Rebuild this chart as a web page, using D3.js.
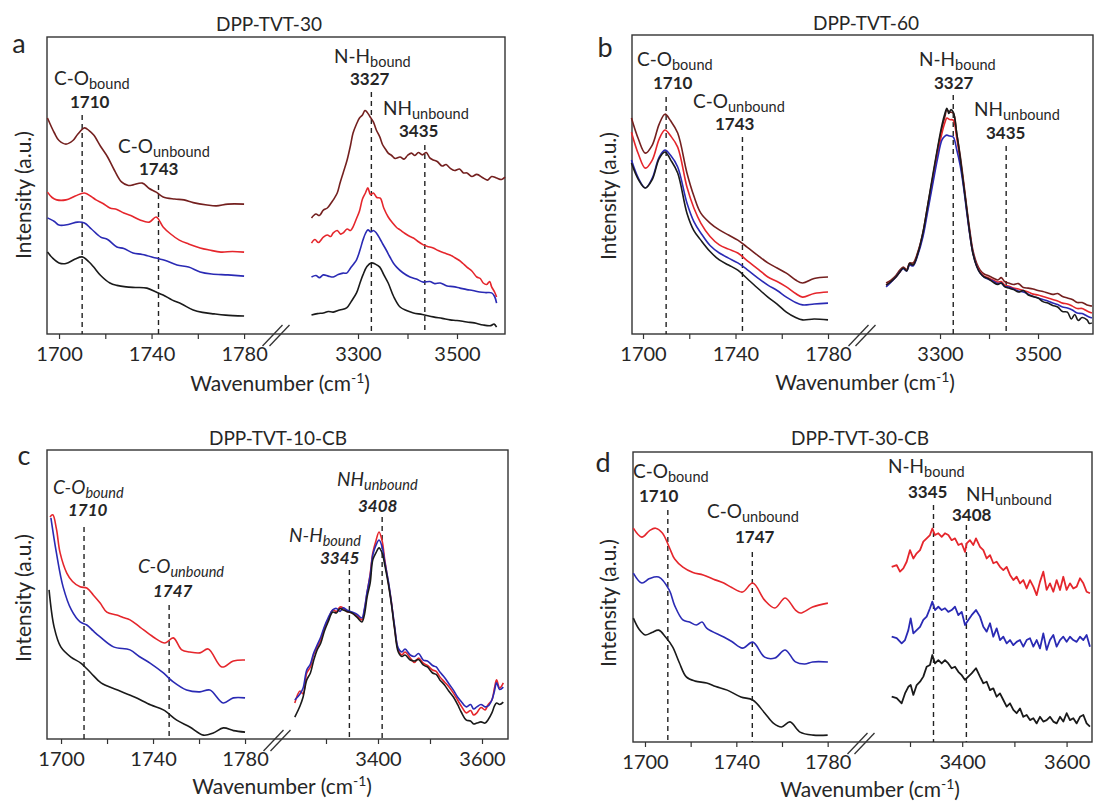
<!DOCTYPE html>
<html><head><meta charset="utf-8">
<script src="https://cdn.jsdelivr.net/npm/d3@7"></script>
<style>body{margin:0;background:#fff} text{font-family:Lato,'Open Sans',sans-serif;}</style>
</head><body><svg id="chart" width="1094" height="803"></svg>
<script>
// ---------- tick values ----------
const ticksLeft = [1700, 1720, 1740, 1760, 1780];
const labelsLeft = [1700, 1740, 1780];
const ticksRightAB = [3300, 3400, 3500];
const labelsRightAB = [3300, 3500];
const ticksRightCD = [3300, 3400, 3500, 3600];
const labelsRightCD = [3400, 3600];

// ---------- titles / markers ----------
const titles = ['DPP-TVT-30', 'DPP-TVT-60', 'DPP-TVT-10-CB', 'DPP-TVT-30-CB'];
const panelLetters = ['a', 'b', 'c', 'd'];
const markersA = [{main:'C-O',sub:'bound',value:1710},{main:'C-O',sub:'unbound',value:1743},{main:'N-H',sub:'bound',value:3327},{main:'NH',sub:'unbound',value:3435}];
const markersB = [{main:'C-O',sub:'bound',value:1710},{main:'C-O',sub:'unbound',value:1743},{main:'N-H',sub:'bound',value:3327},{main:'NH',sub:'unbound',value:3435}];
const markersC = [{main:'C-O',sub:'bound',value:1710},{main:'C-O',sub:'unbound',value:1747},{main:'N-H',sub:'bound',value:3345},{main:'NH',sub:'unbound',value:3408}];
const markersD = [{main:'C-O',sub:'bound',value:1710},{main:'C-O',sub:'unbound',value:1747},{main:'N-H',sub:'bound',value:3345},{main:'NH',sub:'unbound',value:3408}];

// ---------- spectra: [wavenumber, intensity (a.u.)] ----------
// Panel a
const aCO_darkred = [[1695,72],[1698,67],[1700,64.5],[1703,63.3],[1706,64.5],[1708,66.5],[1711,68.7],[1713,67.8],[1715,66.3],[1718,62.5],[1721,59],[1724,54.5],[1727,50.7],[1730,49.5],[1732,49.7],[1736,50.3],[1739,48.5],[1742,47.3],[1745,45.7],[1750,45],[1754,44.7],[1758,43.8],[1764,43],[1768,42.7],[1773,43.3],[1780,43.3]];
const aCO_red = [[1695,47.3],[1697,45.5],[1699,44.7],[1703,44.7],[1707,46],[1711,47],[1714,45.8],[1716,44.7],[1719,43.5],[1722,42],[1725,41.5],[1728,40.3],[1731,39.5],[1735,38],[1739,37.3],[1742,39],[1745,35.7],[1748,33.5],[1752,31.3],[1756,30],[1761,28.7],[1765,28],[1770,27.3],[1775,27.5],[1780,27.3]];
const aCO_blue = [[1695,38.7],[1698,37.5],[1700,36.3],[1704,36.5],[1708,37.3],[1711,37],[1714,35],[1718,32.3],[1721,31.5],[1725,29],[1728,28.5],[1732,27],[1736,26.5],[1742,25.3],[1746,24.5],[1751,23],[1756,22.3],[1761,20.7],[1766,20],[1773,19.7],[1780,19.3]];
const aCO_black = [[1695,27.3],[1697,25.5],[1700,23.7],[1703,23.5],[1707,25],[1710,25.7],[1713,24],[1715,22.3],[1718,19.5],[1722,17],[1725,16.2],[1729,15.7],[1733,15.5],[1738,15.3],[1742,14],[1745,13],[1749,11.3],[1753,10],[1758,8],[1762,7.2],[1767,6.7],[1772,6.3],[1780,6]];
const aNH_darkred = [[3206,38.7],[3215,40],[3222,39.5],[3230,41.3],[3238,42],[3245,43.5],[3250,44.7],[3258,47],[3264,50.5],[3270,53.7],[3278,58],[3285,63],[3290,67],[3297,70],[3303,72],[3309,73],[3314,74.5],[3318,74],[3324,72.5],[3331,70.7],[3337,68],[3344,65.7],[3350,63],[3356,61.5],[3361,60.3],[3368,59.5],[3375,58.5],[3385,59],[3393,58.3],[3400,59.5],[3408,60.3],[3415,59.5],[3422,60.5],[3430,59.7],[3438,60.5],[3445,58.7],[3452,58],[3460,57.5],[3470,56],[3478,56.5],[3486,55.3],[3495,54.5],[3505,55],[3513,53.7],[3520,53.7],[3530,52.5],[3540,53.2],[3553,52],[3562,51.3],[3570,52.5],[3580,52],[3590,51.5],[3597,52.3]];
const aNH_red = [[3206,30.3],[3213,31.5],[3220,30.5],[3230,32.3],[3238,33],[3245,32.5],[3250,33.7],[3258,34.5],[3265,33.3],[3270,33.7],[3278,35],[3285,34.5],[3290,35.7],[3297,38.5],[3303,41],[3309,45],[3315,47],[3320,48.7],[3325,46.5],[3331,47],[3338,45.5],[3345,45.3],[3352,42],[3361,39],[3370,37],[3378,35.5],[3385,34.7],[3395,33.5],[3405,32.5],[3412,32],[3420,31],[3432,29.7],[3440,29.2],[3452,28.7],[3462,27.8],[3475,27],[3486,26.3],[3495,25.5],[3505,24.5],[3512,23.5],[3520,22.3],[3530,21],[3540,19],[3547,18.5],[3553,17],[3560,16.5],[3566,17.5],[3570,15.7],[3576,14],[3580,12.3]];
const aNH_blue = [[3206,19],[3215,19.5],[3222,18.8],[3230,19.7],[3240,19.3],[3250,19],[3260,19.8],[3270,20.3],[3277,20.3],[3285,22],[3292,23.5],[3297,24.7],[3304,28],[3310,31.3],[3315,33.5],[3320,34.7],[3326,34],[3331,34.5],[3337,33.7],[3345,31.5],[3350,30],[3357,28],[3365,25.5],[3372,23.5],[3378,22.3],[3390,20.5],[3405,19],[3418,18.3],[3432,17.3],[3445,17.5],[3455,16.8],[3466,17],[3480,16],[3492,15.8],[3506,15.3],[3520,14.8],[3532,14.5],[3546,14],[3558,13.8],[3570,13.7],[3576,12.5],[3580,10.3]];
const aNH_black = [[3206,6.3],[3218,6.8],[3230,7],[3240,7.5],[3250,7.3],[3263,8],[3277,8.7],[3287,11],[3297,13.7],[3304,17],[3310,19.7],[3318,22.5],[3327,23.7],[3335,23.3],[3344,22.3],[3352,19.8],[3361,17],[3372,12.5],[3385,9],[3398,7.8],[3412,7],[3430,6.5],[3452,5.7],[3470,5.2],[3486,4.7],[3500,4.5],[3520,4],[3535,3.7],[3553,3],[3568,2.8],[3575,3.3],[3580,2.3]];

// Panel b
const bCO_darkred = [[1695,72],[1698,65],[1701,60.3],[1704,63],[1707,70],[1709.5,73.3],[1712,71],[1715,67],[1719,53.7],[1722,46],[1725,40.3],[1729,37],[1733,34.7],[1737,33],[1741,31.3],[1745,29],[1750,26],[1754,23.7],[1758,22],[1762,20.3],[1766,18],[1769,17],[1774,18.5],[1780,19]];
const bCO_red = [[1695,67.3],[1698,60],[1701,55.3],[1704,58],[1707,65],[1709.5,68],[1712,66],[1715,62.3],[1719,49],[1722,42],[1725,37],[1729,32.5],[1733,29.7],[1737,28.3],[1741,27],[1745,24.5],[1750,21.5],[1754,19],[1758,17.5],[1762,15.7],[1766,13.5],[1769,12.3],[1774,13.5],[1780,14]];
const bCO_blue = [[1695,58],[1698,52],[1701,48.7],[1704,52],[1707,59],[1709.5,61.3],[1712,59.5],[1715,55.7],[1719,43.7],[1722,37.5],[1725,33.7],[1729,29.5],[1733,27],[1737,25.3],[1741,23.7],[1745,21.5],[1750,18.5],[1754,16.3],[1758,14.5],[1762,12.3],[1766,10.5],[1769,9.7],[1774,10],[1780,10.3]];
const bCO_black = [[1695,57],[1698,51.5],[1701,48.7],[1704,51.5],[1707,58.5],[1709.5,60.7],[1712,58],[1715,53.7],[1719,40.3],[1722,34.5],[1725,31.3],[1729,27.5],[1733,24.7],[1737,23],[1741,21.3],[1745,18.5],[1750,15],[1754,12.3],[1758,10],[1762,7.3],[1766,5.5],[1769,4.7],[1774,5],[1780,4.7]];
const bNH_darkred = [[3190,17],[3200,18],[3210,19.5],[3218,21.3],[3225,22.3],[3232,21.5],[3238,23.7],[3245,23.7],[3255,27.5],[3265,33.7],[3275,43],[3286,53],[3295,61.5],[3304,68.7],[3310,72.5],[3314,74.7],[3320,74],[3327,73.7],[3334,67],[3341,59.7],[3348,51],[3354,43],[3360,35.5],[3367,28],[3375,23.5],[3382,21.3],[3390,20],[3398,19.5],[3408,18.7],[3418,18],[3425,18.8],[3432,17.5],[3440,17],[3450,16.5],[3460,16.8],[3470,15.5],[3480,15.3],[3490,15],[3500,14.5],[3510,14.2],[3520,13.7],[3530,13.2],[3540,13.5],[3550,12.5],[3560,12],[3570,11.5],[3580,10.5],[3590,10.5],[3600,9.7],[3610,9.3]];
const bNH_red = [[3190,16.3],[3200,17.5],[3210,19],[3218,20.7],[3225,22],[3232,21.2],[3238,23.3],[3245,23],[3255,27],[3265,33],[3275,42],[3286,52],[3295,60],[3304,67],[3310,70.5],[3314,72],[3320,71.5],[3327,71.3],[3334,65.5],[3341,58],[3348,50],[3354,42],[3360,34.5],[3367,27.3],[3375,22.8],[3382,20.7],[3390,19.3],[3398,18.8],[3408,18],[3418,17.3],[3425,17.5],[3432,16.3],[3440,16],[3450,15.3],[3460,15],[3470,14.5],[3480,14],[3490,13.3],[3500,13],[3510,12.5],[3520,12],[3530,11.5],[3540,11],[3550,10.3],[3560,10],[3570,9.3],[3580,8.5],[3590,8.5],[3600,7.7],[3610,7]];
const bNH_blue = [[3190,15.7],[3200,17.3],[3210,19],[3218,20.7],[3225,21.8],[3232,21],[3238,23],[3245,22.7],[3255,26.5],[3265,32.3],[3275,41],[3286,50.7],[3295,58.5],[3304,64.7],[3310,66],[3314,66.3],[3320,66],[3327,65.7],[3334,61.5],[3341,56.3],[3348,49],[3354,41.3],[3360,34],[3367,27],[3375,22.5],[3382,20.3],[3390,19],[3398,18.3],[3408,17.7],[3418,16.8],[3425,17],[3432,15.8],[3440,15.7],[3450,15],[3460,14.3],[3470,14],[3480,13.3],[3490,12.5],[3500,12],[3510,11.5],[3520,11],[3530,10.3],[3540,9.8],[3550,9],[3560,8.7],[3570,8],[3580,7],[3590,6.8],[3600,6],[3610,5.3]];
const bNH_black = [[3190,16.3],[3200,17.5],[3210,19],[3218,20.7],[3225,22],[3232,21],[3238,23.5],[3245,23],[3255,27],[3265,33.7],[3275,43],[3286,53.7],[3295,62],[3304,69.7],[3310,73.5],[3314,75.3],[3318,73.5],[3322,74.8],[3327,74],[3334,67],[3341,59],[3348,50],[3354,42.3],[3360,34.5],[3367,27],[3375,22.5],[3382,20.3],[3390,19],[3398,18.5],[3408,17.3],[3418,16.5],[3425,17],[3432,15.8],[3440,15.3],[3450,14.8],[3460,14],[3470,14.5],[3480,13],[3490,12.5],[3500,12],[3510,10.8],[3520,10.3],[3530,9.5],[3540,9],[3550,7.5],[3560,7.3],[3568,5],[3575,6.5],[3582,4.5],[3590,5.5],[3600,4.7],[3605,3.5],[3610,3.7]];

// Panel c
const cCO_red = [[1695.2,74],[1696.4,74.7],[1698,70],[1699.6,62],[1702.5,55.3],[1705,52.5],[1708.3,50.7],[1711.2,50.3],[1714,48],[1717,45.3],[1719.9,42.3],[1724.2,41.3],[1727,40.5],[1730,39.7],[1734.3,37.3],[1740.1,34],[1745.2,32],[1748.8,33.7],[1752.5,29.7],[1756,29],[1760.4,28.7],[1764,30],[1769.9,24],[1774.9,26],[1780,26.3]];
const cCO_blue = [[1695.6,73.7],[1698,62],[1700.9,50.7],[1704.5,43],[1708.3,39],[1711.2,38],[1714,36],[1717,34],[1722.8,30.7],[1730,29.7],[1734,27.5],[1738.7,25.3],[1744.5,22],[1748.8,19],[1754.6,16.3],[1760.4,15.7],[1764.7,16.3],[1770.5,12],[1774.9,13.7],[1780,13.7]];
const cCO_black = [[1694.8,49.7],[1697,37.3],[1699.9,30.7],[1704.3,27.3],[1708.6,25.3],[1713,22],[1717.4,18.7],[1724.6,16.3],[1731.9,14],[1739.1,11.3],[1744.5,9.7],[1750.3,6.3],[1756,4],[1761.9,1.3],[1766.2,2],[1770.6,3.7],[1775,2.8],[1780,2.3]];
const cNH_red = [[3240,12],[3250,16],[3256,15],[3263,22],[3270,24],[3276,28],[3283,30.7],[3290,33],[3297,37],[3304,39.7],[3313,43],[3320,42.5],[3327,44],[3333,43.7],[3340,42.5],[3350,42],[3360,41],[3369,39.7],[3374,43],[3379,48.7],[3385,55],[3390,62],[3396,66],[3402,69],[3408,66],[3413,59.7],[3420,52],[3426,45.3],[3432,37],[3439,29.7],[3446,28],[3452,29],[3462,27],[3470,25.5],[3478,27],[3487,25.3],[3495,24.5],[3505,23],[3512,22.5],[3519,20.7],[3528,19],[3536,17.5],[3545,15.3],[3553,13],[3560,11],[3570,8.7],[3578,9.5],[3584,8],[3590,8.7],[3598,10.5],[3606,9.7],[3612,11.5],[3619,13],[3624,17],[3628,19.7],[3634,17],[3641,18.7]];
const cNH_blue = [[3240,13],[3250,15],[3256,17],[3263,23],[3270,25],[3276,28.5],[3283,31.3],[3290,34],[3297,37.5],[3304,40.3],[3313,43],[3320,43.5],[3327,42.5],[3333,43.7],[3340,43],[3350,42.3],[3360,41.5],[3369,40.3],[3374,43.5],[3379,49],[3385,54.5],[3390,61.3],[3396,64.5],[3402,66.3],[3408,64],[3413,59],[3420,52.5],[3426,45.3],[3432,37.5],[3439,30.3],[3446,29],[3452,30],[3462,28],[3470,27.5],[3478,28.5],[3487,26.3],[3495,26],[3505,24.5],[3512,24],[3519,22.3],[3528,20.5],[3536,18.5],[3545,16.3],[3553,14],[3560,12.5],[3570,10.7],[3578,11.5],[3584,10],[3590,10.7],[3598,11.5],[3606,10.7],[3612,11],[3619,13],[3624,16],[3628,18.7],[3634,16.5],[3641,17.3]];
const cNH_black = [[3240,7.3],[3250,11],[3256,14],[3263,19.7],[3270,22],[3276,26],[3283,29.7],[3290,32],[3297,36],[3304,39],[3313,42.3],[3320,42],[3327,43.5],[3333,43],[3340,42.5],[3350,42],[3360,40.5],[3369,39],[3374,41.5],[3379,47.3],[3385,52],[3390,59.7],[3396,62],[3402,63.7],[3408,62],[3413,58],[3420,51.5],[3426,44.7],[3432,36.5],[3439,29],[3446,27.5],[3452,28],[3462,26.3],[3470,26],[3478,26.5],[3487,24.7],[3495,24],[3505,22],[3512,21.5],[3519,19.7],[3528,18],[3536,16],[3545,14],[3553,11.5],[3560,9],[3570,6.3],[3578,6],[3584,5],[3590,5.3],[3598,5.7],[3606,5.3],[3612,6.5],[3619,8.7],[3624,11],[3628,12],[3634,11.5],[3641,12.3]];

// Panel d
const dCO_red = [[1694.9,71.3],[1698.6,68.3],[1702,70.5],[1704.6,71.3],[1707.6,69.7],[1710.6,65],[1713,61],[1716.6,58.3],[1721,56.5],[1725.5,55.7],[1730,54.3],[1734.5,53],[1738,51.5],[1742.7,50],[1747.2,53],[1752.4,47.3],[1756.9,44.7],[1761.4,48],[1765.9,44],[1768.1,43],[1773.4,45],[1780.1,46.3]];
const dCO_blue = [[1694.9,56.3],[1698.6,53],[1702,54.5],[1706,55],[1710.6,50.7],[1713,45.5],[1716.6,40.7],[1719.5,40],[1722.5,39],[1725,40],[1727,38],[1734.5,35],[1738,33.5],[1742.7,31.3],[1747.2,33.3],[1752.4,28.3],[1756.9,28],[1761.4,30.7],[1765.9,26.7],[1770,26],[1773.4,26.7],[1780.1,26.7]];
const dCO_black = [[1694.9,41.3],[1697.5,37.5],[1700.1,35.7],[1703,36.5],[1706,37.3],[1709,35],[1712.1,31.7],[1715,26.5],[1718.1,21.7],[1722,20.3],[1727,19.7],[1731,18.5],[1736,17.3],[1742,15],[1747.2,14],[1752.4,9.7],[1756.2,6.3],[1759.8,5],[1763.5,6.7],[1767.9,3.3],[1773.7,2.3],[1780,2.3]];
const dNH_red = [[3264.9,58.4],[3274.5,59],[3280.8,56.8],[3287.2,57.9],[3293.6,60.1],[3300,64],[3306.4,61.2],[3312.8,62.9],[3319.2,64],[3325.5,66.8],[3331.9,67.9],[3338.3,69],[3342.8,71.2],[3347.9,69],[3354.3,69.6],[3360.7,68.4],[3367,69.6],[3373.4,69],[3379.8,67.3],[3386.2,67.9],[3392.6,65.7],[3399,66.2],[3405.4,63.4],[3408.6,66.2],[3414.9,67.3],[3421.3,65.7],[3426.4,67.9],[3434.1,65.1],[3440.5,64],[3446.9,61.2],[3453.3,62.3],[3459.6,59.6],[3466,60.1],[3472.4,58.4],[3478.8,57.3],[3485.2,58.4],[3491.6,55.7],[3498,54],[3504.3,55.1],[3510.7,52.9],[3517.1,54],[3523.5,51.2],[3529.9,54],[3536.3,51.8],[3542.7,49],[3549,53.4],[3555.4,56.8],[3561.8,50.7],[3568.2,52.9],[3574.6,50.1],[3581,54],[3587.4,50.7],[3593.7,55.1],[3600.1,50.7],[3606.5,52.9],[3612.9,51.2],[3619.3,51.8],[3625.7,54.6],[3632.1,52.9],[3638.4,50.1],[3644.8,49.6]];
const dNH_blue = [[3264.9,35.1],[3274.5,34.6],[3284,32.9],[3290.4,34],[3296.8,37.3],[3301.3,41.2],[3306.4,36.2],[3312.8,37.3],[3319.2,38.4],[3325.5,40.7],[3331.9,41.8],[3338.3,44.6],[3342.8,46.8],[3347.9,44],[3354.3,45.1],[3360.7,44],[3367,44.6],[3373.4,43.4],[3379.8,44],[3386.2,45.1],[3392.6,42.3],[3399,43.4],[3405.4,39],[3411.7,40.7],[3418.1,42.3],[3426.4,44],[3434.1,41.8],[3440.5,38.4],[3446.9,36.8],[3453.3,39.6],[3459.6,35.1],[3466,37.9],[3472.4,34],[3478.8,35.1],[3485.2,32.9],[3491.6,34],[3498,32.3],[3504.3,33.4],[3510.7,34],[3517.1,31.8],[3523.5,34],[3529.9,34.6],[3536.3,31.8],[3542.7,34],[3549,31.2],[3555.4,36.2],[3561.8,30.7],[3568.2,34],[3574.6,35.7],[3581,31.8],[3587.4,34],[3593.7,35.1],[3600.1,33.4],[3606.5,35.1],[3612.9,34],[3619.3,33.4],[3625.7,35.1],[3632.1,34],[3638.4,35.7],[3644.8,31.8]];
const dNH_black = [[3264.9,15.1],[3274.5,14.6],[3284,12.9],[3290.4,16.2],[3296.8,18.4],[3301.3,19],[3306.4,15.7],[3312.8,19],[3319.2,20.1],[3325.5,21.8],[3331.9,25.1],[3338.3,25.7],[3342.8,29],[3347.9,26.2],[3354.3,27.3],[3360.7,26.2],[3367,27.3],[3373.4,26.2],[3379.8,24.6],[3386.2,25.1],[3392.6,23.4],[3399,22.3],[3405.4,20.7],[3411.7,21.8],[3418.1,22.9],[3426.4,24.6],[3434.1,21.8],[3440.5,19.6],[3446.9,20.1],[3453.3,17.3],[3459.6,17.9],[3466,15.1],[3472.4,16.2],[3478.8,14],[3485.2,11.8],[3491.6,12.9],[3498,10.7],[3504.3,9.6],[3510.7,11.2],[3517.1,8.4],[3523.5,9],[3529.9,7.3],[3536.3,7.9],[3542.7,6.2],[3549,8.4],[3555.4,6.8],[3561.8,7.3],[3568.2,8.4],[3574.6,6.8],[3581,6.2],[3587.4,8.4],[3593.7,6.8],[3600.1,9.6],[3606.5,7.3],[3612.9,7.9],[3619.3,6.2],[3625.7,8.4],[3632.1,9],[3638.4,6.2],[3644.8,5.1]];

// ---------- styling / layout ----------
const COL = {darkred:'#74201f', red:'#e5262c', blue:'#2a2ab4', black:'#1a1a1a'};

const panels = [
  {x0:47, x1:505, y0:37, y1:334, brk:276, L:[1694.8,1793.8], R:[3134.3,3597], yMax:99,
   ticksR:ticksRightAB, labelsR:labelsRightAB, italic:false, markers:markersA,
   title:[269,31], letter:[19,53], ylab:[24,195], xlab:[280,391],
   annot:[[54,85,70,108,115],[118,153,139,175,185],[334,63,350,85,92],[383,115,399,137,145]],
   series:[[aCO_darkred,'darkred'],[aCO_red,'red'],[aCO_blue,'blue'],[aCO_black,'black'],
           [aNH_darkred,'darkred'],[aNH_red,'red'],[aNH_blue,'blue'],[aNH_black,'black']]},
  {x0:632, x1:1093, y0:35, y1:334, brk:862, L:[1695.24,1794.7], R:[3140.8,3612.2], yMax:99.7,
   ticksR:ticksRightAB, labelsR:labelsRightAB, italic:false, markers:markersB,
   title:[866,30], letter:[605,57], ylab:[609,196], xlab:[865,390],
   annot:[[637,66,653,89,97],[693,108,715,130,137],[919,66,934,89,95],[974,116,986,139,146]],
   series:[[bCO_darkred,'darkred'],[bCO_red,'red'],[bCO_blue,'blue'],[bCO_black,'black'],
           [bNH_darkred,'darkred'],[bNH_red,'red'],[bNH_blue,'blue'],[bNH_black,'black']]},
  {x0:47, x1:508, y0:450, y1:739, brk:277, L:[1693.9,1793.9], R:[3205.8,3650], yMax:96.3,
   ticksR:ticksRightCD, labelsR:labelsRightCD, italic:true, markers:markersC,
   title:[278,445], letter:[24,465], ylab:[24,598], xlab:[282,794],
   annot:[[53,494,68,516,527],[138,573,153,597,605],[289,542,320,564,570],[337,486,358,512,517]],
   series:[[cCO_red,'red'],[cCO_blue,'blue'],[cCO_black,'black'],
           [cNH_red,'red'],[cNH_blue,'blue'],[cNH_black,'black']]},
  {x0:633, x1:1092, y0:452, y1:742, brk:861, L:[1694.75,1794.6], R:[3206.1,3648.7], yMax:96.7,
   ticksR:ticksRightCD, labelsR:labelsRightCD, italic:false, markers:markersD,
   title:[860,445], letter:[603,472], ylab:[609,603], xlab:[870,797],
   annot:[[633,478,639,502,510],[707,518,735,543,552],[888,473,908,498,505],[966,501,952,521,525]],
   series:[[dCO_red,'red'],[dCO_blue,'blue'],[dCO_black,'black'],
           [dNH_red,'red'],[dNH_blue,'blue'],[dNH_black,'black']]}
];

const svg = d3.select('#chart');
const TXT = '#262626';

panels.forEach((p, i) => {
  const g = svg.append('g');
  const xL = d3.scaleLinear().domain(p.L).range([p.x0, p.brk]);
  const xR = d3.scaleLinear().domain(p.R).range([p.brk, p.x1]);
  const y = d3.scaleLinear().domain([0, p.yMax]).range([p.y1, p.y0]);
  const xv = v => v < 2500 ? xL(v) : xR(v);

  const styleAxis = sel => {
    sel.select('.domain').remove();
    sel.selectAll('.tick line').attr('stroke', '#333').attr('stroke-width', 1.2);
    sel.selectAll('.tick text').attr('font-size', 20).attr('fill', TXT).attr('font-family', 'Lato');
  };
  g.append('g').attr('transform', `translate(0,${p.y1})`)
    .call(d3.axisBottom(xL).tickValues(ticksLeft).tickSize(5).tickPadding(8)
      .tickFormat(d => labelsLeft.includes(d) ? d : ''))
    .call(styleAxis);
  g.append('g').attr('transform', `translate(0,${p.y1})`)
    .call(d3.axisBottom(xR).tickValues(p.ticksR).tickSize(5).tickPadding(8)
      .tickFormat(d => p.labelsR.includes(d) ? d : ''))
    .call(styleAxis);

  g.append('rect').attr('x', p.x0).attr('y', p.y0).attr('width', p.x1 - p.x0).attr('height', p.y1 - p.y0)
    .attr('fill', 'none').attr('stroke', '#333').attr('stroke-width', 1.4);

  [-3.5, 3.5].forEach(o => {
    g.append('line').attr('x1', p.brk + o - 10).attr('y1', p.y1 + 12).attr('x2', p.brk + o + 10).attr('y2', p.y1 - 9)
      .attr('stroke', '#333').attr('stroke-width', 1.3);
  });

  p.markers.forEach((m, k) => {
    const a = p.annot[k];
    g.append('line').attr('x1', xv(m.value)).attr('x2', xv(m.value)).attr('y1', a[4]).attr('y2', p.y1)
      .attr('stroke', '#222').attr('stroke-width', 1.4).attr('stroke-dasharray', '5,4');
  });

  p.series.forEach(([data, c]) => {
    const noisy = (i === 3 && data[0][0] > 2500);
    const line = d3.line().x(d => xv(d[0])).y(d => y(d[1]))
      .curve(noisy ? d3.curveLinear : d3.curveCatmullRom.alpha(0.5));
    g.append('path').datum(data).attr('d', line).attr('fill', 'none')
      .attr('stroke', COL[c]).attr('stroke-width', noisy ? 1.8 : 1.6).attr('stroke-linejoin', 'round');
  });

  p.markers.forEach((m, k) => {
    const a = p.annot[k];
    const t = g.append('text').attr('x', a[0]).attr('y', a[1]).attr('font-size', 19).attr('fill', TXT)
      .style('font-style', p.italic ? 'italic' : 'normal');
    t.append('tspan').text(m.main);
    t.append('tspan').attr('font-size', 14.5).attr('dy', 4).text(m.sub);
    g.append('text').attr('x', a[2]).attr('y', a[3]).attr('font-size', 17).attr('font-weight', 'bold')
      .attr('fill', TXT).style('font-style', p.italic ? 'italic' : 'normal').text(m.value);
  });

  g.append('text').attr('x', p.title[0]).attr('y', p.title[1]).attr('text-anchor', 'middle')
    .attr('font-size', 19).attr('fill', TXT).text(titles[i]);
  g.append('text').attr('x', p.letter[0]).attr('y', p.letter[1]).attr('text-anchor', 'middle')
    .attr('font-size', 27).attr('fill', TXT).text(panelLetters[i]);
  g.append('text').attr('transform', `translate(${p.ylab[0]},${p.ylab[1]}) rotate(-90)`)
    .attr('text-anchor', 'middle').attr('dy', '0.35em').attr('font-size', 21).attr('fill', TXT).text('Intensity (a.u.)');
  const xt = g.append('text').attr('x', p.xlab[0]).attr('y', p.xlab[1]).attr('text-anchor', 'middle')
    .attr('font-size', 21).attr('fill', TXT);
  xt.append('tspan').text('Wavenumber (cm');
  xt.append('tspan').attr('font-size', 14).attr('dy', -8).text('-1');
  xt.append('tspan').attr('dy', 8).text(')');
});
</script>
</body></html>
